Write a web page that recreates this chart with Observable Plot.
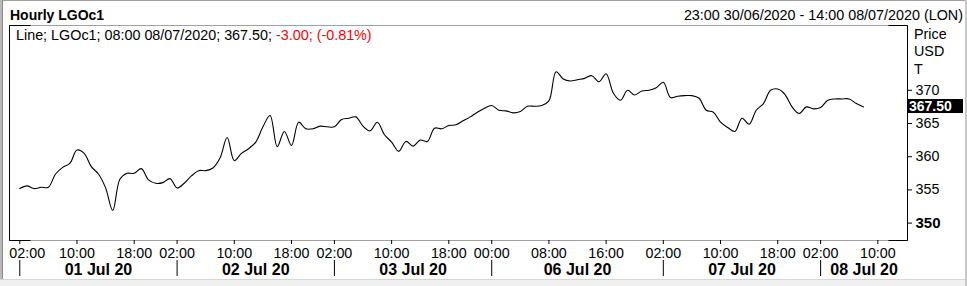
<!DOCTYPE html>
<html><head><meta charset="utf-8">
<script src="https://cdn.jsdelivr.net/npm/d3@7"></script>
<script src="https://cdn.jsdelivr.net/npm/@observablehq/plot@0.6"></script>
<style>
html,body{margin:0;padding:0;background:#fff;}
#wrap{position:relative;width:967px;height:286px;overflow:hidden;font-family:"Liberation Sans",Arial,sans-serif;font-size:14.35px;color:#000;}
#chart{position:absolute;left:0;top:0;}
.t{position:absolute;white-space:nowrap;line-height:16px;}
.edge{position:absolute;}
</style></head><body>
<div id="wrap">
  <div id="chart"></div>
  <div class="edge" style="left:0;top:0;width:967px;height:1px;background:#a0a0a0"></div>
  <div class="edge" style="left:0;top:0;width:3px;height:286px;background:#b9b9b9;border-right:1px solid #8a8a8a;box-sizing:border-box"></div>
  <div class="edge" style="left:0;top:279px;width:967px;height:7px;background:#f0f0f0;border-top:1px solid #d6d6d6;box-sizing:border-box"></div>
  <div class="edge" style="left:965px;top:0;width:2px;height:286px;background:#c8c8c8"></div>
  <div class="t" style="left:10px;top:7px;font-weight:bold;font-size:14px">Hourly LGOc1</div>
  <div class="t" style="right:4px;top:7px">23:00 30/06/2020 - 14:00 08/07/2020 (LON)</div>
  <div class="t" style="left:16px;top:27px">Line; LGOc1; 08:00 08/07/2020; 367.50; <span style="color:#ff0000">-3.00; (-0.81%)</span></div>
  <div class="t" style="left:914px;top:25.5px">Price</div>
  <div class="t" style="left:914px;top:43px">USD</div>
  <div class="t" style="left:914px;top:61px">T</div>
</div>
<script>
// hourly closes, trading-hour index 0 = 02:00 01 Jul ... 118 = 08:00 08 Jul
const prices = [
  355.2, 355.6, 355.2, 355.4, 355.4, 357.4, 358.4, 359.0, 361.0, 360.5,
  358.5, 357.4, 355.3, 351.9, 356.6, 357.5, 357.5, 358.2, 356.5, 356.0,
  356.1, 356.7, 355.3, 356.0, 357.1, 357.9, 357.9, 358.3, 359.8, 362.9,
  359.4, 360.5, 361.2, 362.2, 364.5, 366.2, 361.5, 363.8, 361.7, 365.2,
  364.2, 364.2, 364.6, 364.5, 364.5, 365.6, 365.8, 366.0, 364.6, 363.9,
  365.2, 363.3, 362.2, 360.8, 362.3, 361.6, 362.5, 362.3, 364.3, 364.2,
  364.7, 364.8, 365.4, 366.0, 366.7, 367.3, 367.7, 367.0, 366.9, 366.6,
  366.8, 367.6, 367.6, 367.7, 368.4, 372.8, 371.7, 371.4, 371.6, 371.8,
  372.2, 371.3, 372.5, 369.6, 368.5, 370.0, 369.3, 369.9, 370.0, 370.4,
  371.2, 368.9, 369.1, 369.2, 369.2, 368.8, 367.0, 366.7, 365.2, 364.4,
  363.8, 365.8, 364.9, 367.0, 368.0, 370.0, 370.2, 369.4, 367.5, 366.5,
  367.5, 367.2, 367.4, 368.5, 368.7, 368.7, 368.7, 368.0, 367.5
];
const hourTicks  = [0, 8, 16, 22, 30, 38, 44, 52, 60, 66, 74, 82, 90, 98, 106, 112, 120];
const hourLabels = ["02:00","10:00","18:00","02:00","10:00","18:00","02:00","10:00","18:00",
                    "00:00","08:00","16:00","02:00","10:00","18:00","02:00","10:00"];
const dayStarts  = [0, 22, 44, 66, 90, 112];
const dayLabels  = ["01 Jul 20","02 Jul 20","03 Jul 20","06 Jul 20","07 Jul 20","08 Jul 20"];
const yTicks     = [350, 355, 360, 365, 370];
const lastPrice  = 367.50;
const xDomain = [-1.44, 124.15];
const yDomain = [347.38, 379.76];

const series = prices.map((v, i) => ({i, v}));
const dayMids = dayStarts.map((s, k) => ((k + 1 < dayStarts.length ? dayStarts[k + 1] : xDomain[1]) + s) / 2);

const corners = (index, scales, values, dims) => {
  const g = d3.create("svg:g").attr("stroke", "black").attr("fill", "none");
  const L = dims.marginLeft + 0.5, R = dims.width - dims.marginRight + 0.5;
  const T = dims.marginTop + 0.5, B = dims.height - dims.marginBottom + 0.5;
  g.append("line").attr("x1", L).attr("x2", L).attr("y1", T).attr("y2", B);
  g.append("line").attr("x1", R).attr("x2", R).attr("y1", T).attr("y2", B);
  g.append("line").attr("x1", L).attr("x2", L + 21).attr("y1", T).attr("y2", T);
  g.append("line").attr("x1", L).attr("x2", L + 21).attr("y1", B).attr("y2", B);
  g.append("line").attr("x1", R - 19).attr("x2", R).attr("y1", T).attr("y2", T);
  g.append("line").attr("x1", R - 19).attr("x2", R).attr("y1", B).attr("y2", B);
  return g.node();
};

const priceTag = (index, scales, values, dims) => {
  const y = Math.round(scales.y(lastPrice));
  const x0 = dims.width - dims.marginRight + 1;
  const g = d3.create("svg:g");
  g.append("rect").attr("x", x0).attr("y", y - 7).attr("width", 55).attr("height", 14).attr("fill", "black");
  g.append("text").attr("x", x0 + 1).attr("y", y + 5).attr("fill", "white")
    .attr("text-anchor", "start")
    .attr("font-weight", "bold").attr("font-size", 14)
    .attr("font-family", "'Liberation Sans', Arial, sans-serif")
    .text(lastPrice.toFixed(2));
  return g.node();
};

const plot = Plot.plot({
  width: 967,
  height: 286,
  marginTop: 25,
  marginBottom: 46,
  marginLeft: 9,
  marginRight: 60,
  style: {fontFamily: "'Liberation Sans', Arial, sans-serif", fontSize: "14.3px", background: "transparent", color: "black"},
  x: {type: "linear", domain: xDomain, axis: null},
  y: {domain: yDomain, axis: null},
  marks: [
    Plot.frame({stroke: "#a0a0a0"}),
    Plot.line(series, {x: "i", y: "v", curve: "catmull-rom", stroke: "black", strokeWidth: 1.1}),
    Plot.axisY(yTicks.slice(1), {anchor: "right", tickSize: 4, tickPadding: 4, fontSize: 14.3, label: null, tickFormat: d => String(d)}),
    Plot.axisY(yTicks.slice(0, 1), {anchor: "right", tickSize: 4, tickPadding: 4, fontSize: 15, fontWeight: "bold", label: null, tickFormat: d => String(d)}),
    Plot.axisX(hourTicks, {anchor: "bottom", tickSize: 4, tickPadding: 3.5, fontSize: 14.3, label: null,
      tickFormat: d => d === hourTicks[0] ? "" : hourLabels[hourTicks.indexOf(d)]}),
    Plot.text(hourTicks.slice(0, 1), {x: d => d, text: hourLabels.slice(0, 1), frameAnchor: "bottom", lineAnchor: "top", dy: 7.5, dx: 7.4, fontSize: 14.3}),
    Plot.ruleX(dayStarts, {x: d => d, insetTop: 235, insetBottom: -36, stroke: "black"}),
    Plot.text(dayMids, {x: d => d, text: dayLabels, frameAnchor: "bottom", lineAnchor: "top", dy: 23.6, fontSize: 16, fontWeight: "bold"}),
    corners,
    priceTag
  ]
});
document.getElementById("chart").appendChild(plot);
</script>
</body></html>
